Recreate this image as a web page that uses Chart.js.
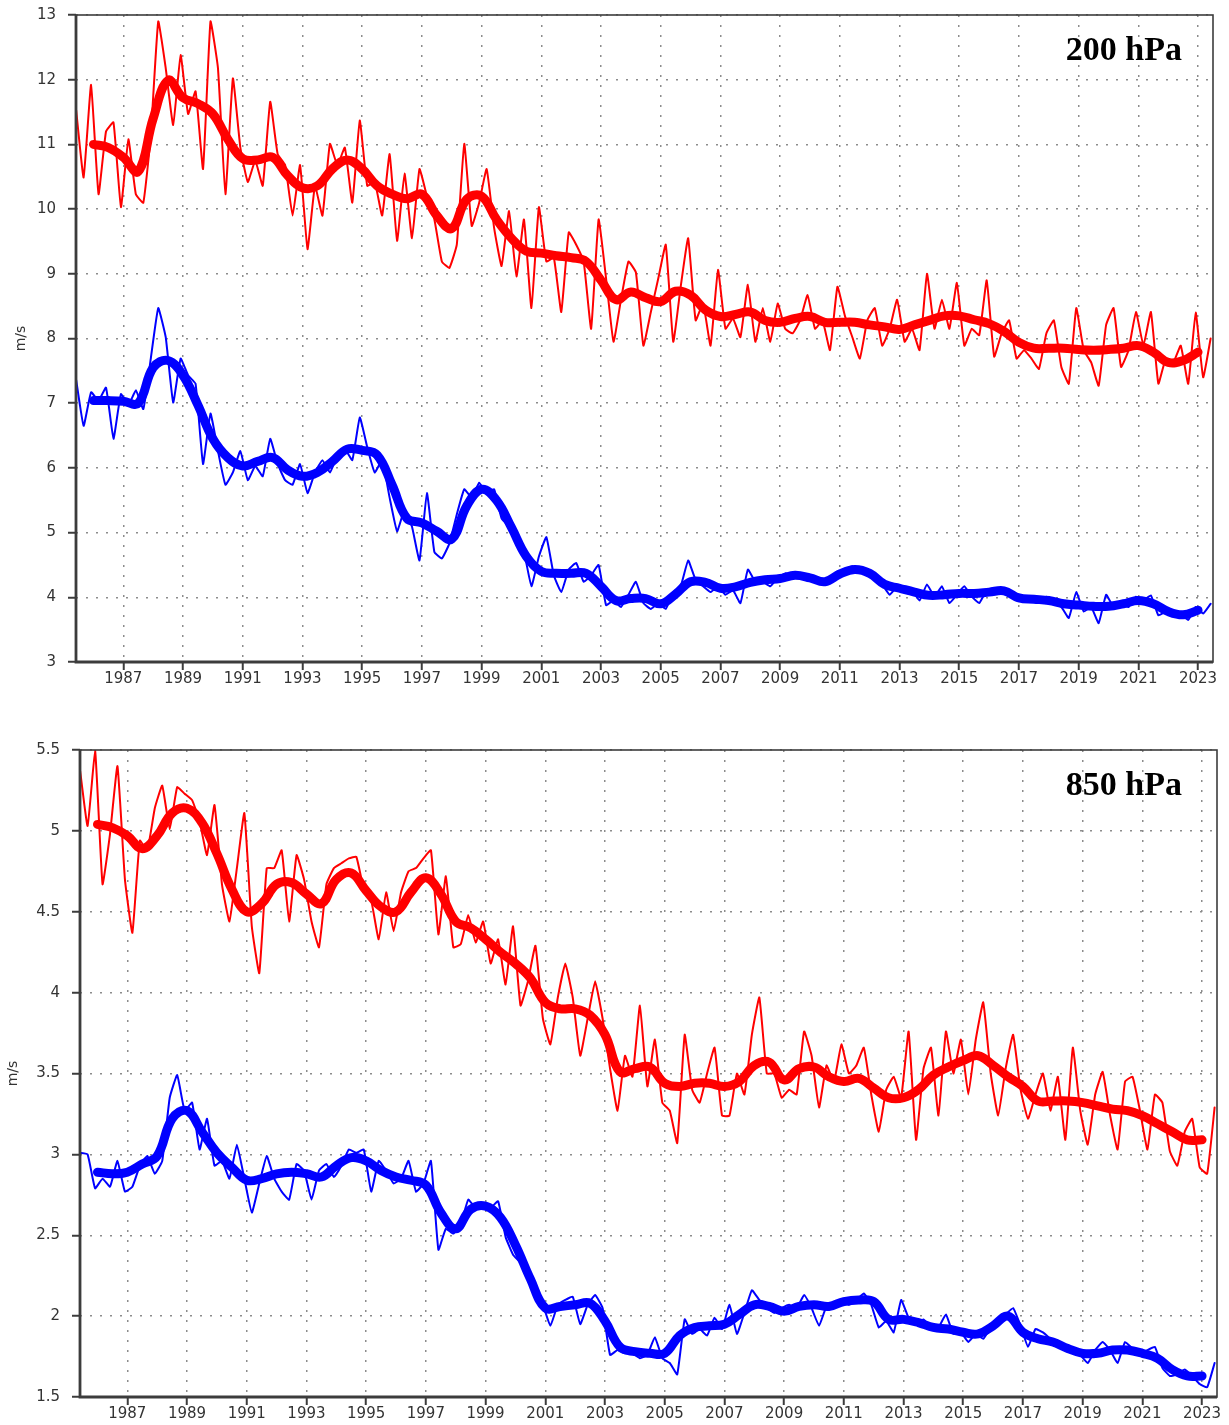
<!DOCTYPE html>
<html lang="en">
<head>
<meta charset="UTF-8">
<title>Wind speed at 200 hPa and 850 hPa</title>
<style>
  body{margin:0;background:#fff;width:1229px;height:1425px;position:relative;overflow:hidden}
  canvas{position:absolute;left:0}
  #upper{top:0}
  #lower{top:735px}
</style>
<script src="https://cdn.jsdelivr.net/npm/chart.js"></script>
</head>
<body>
<canvas id="upper" width="1229" height="700"></canvas>
<canvas id="lower" width="1229" height="690"></canvas>
<script>
// tick labels
const yearTicks = [1987, 1989, 1991, 1993, 1995, 1997, 1999, 2001, 2003, 2005, 2007,
                   2009, 2011, 2013, 2015, 2017, 2019, 2021, 2023];
const ticks200 = [3, 4, 5, 6, 7, 8, 9, 10, 11, 12, 13];
const ticks850 = [1.5, 2, 2.5, 3, 3.5, 4, 4.5, 5, 5.5];

// raw series: one value per quarter, starting 1985.42
const rawStart = 1985.42, rawStep = 0.25;
// smoothed series: one value per half year, starting 1986.0
const smoothStart = 1986, smoothStep = 0.5;

// 200 hPa, red
const red200 = [
  11.53, 10.49, 11.92,
  10.23, 11.2, 11.34, 10.03,
  11.08, 10.23, 10.1, 11.14,
  12.9, 12.18, 11.3, 12.38,
  11.47, 11.82, 10.62, 12.9,
  12.18, 10.23, 12.02, 10.95,
  10.42, 10.75, 10.36, 11.66,
  10.85, 10.68, 9.9, 10.68,
  9.38, 10.36, 9.9, 11.01,
  10.68, 10.95, 10.1, 11.37,
  10.36, 10.42, 9.9, 10.85,
  9.51, 10.55, 9.55, 10.62,
  10.2, 9.84, 9.19, 9.09,
  9.45, 11.01, 9.74, 10.1,
  10.62, 9.71, 9.12, 9.97,
  8.96, 9.84, 8.47, 10.03,
  9.19, 9.25, 8.41, 9.64,
  9.45, 9.19, 8.15, 9.84,
  8.93, 7.95, 8.6, 9.19,
  9.02, 7.89, 8.41, 8.93,
  9.45, 7.95, 8.8, 9.55,
  8.28, 8.54, 7.89, 9.06,
  8.15, 8.31, 8.02, 8.83,
  7.95, 8.47, 7.95, 8.54,
  8.15, 8.08, 8.28, 8.67,
  8.15, 8.28, 7.82, 8.8,
  8.35, 8.02, 7.69, 8.28,
  8.47, 7.89, 8.15, 8.6,
  7.95, 8.15, 7.82, 9.0,
  8.15, 8.6, 8.15, 8.86,
  7.89, 8.15, 8.05, 8.9,
  7.72, 8.08, 8.28, 7.69,
  7.82, 7.69, 7.53, 8.08,
  8.28, 7.56, 7.3, 8.47,
  7.82, 7.63, 7.27, 8.21,
  8.47, 7.56, 7.82, 8.41,
  7.89, 8.41, 7.3, 7.69,
  7.63, 7.89, 7.3, 8.4,
  7.4, 8.0
];
const red200Smooth = [
  11.0, 10.95, 10.8, 10.58, 11.4, 11.99, 11.72, 11.63, 11.47, 11.08,
  10.78, 10.76, 10.8, 10.52, 10.33, 10.36, 10.62, 10.76, 10.62, 10.36,
  10.23, 10.16, 10.23, 9.9, 9.7, 10.15, 10.2, 9.84, 9.55, 9.35,
  9.32, 9.28, 9.25, 9.19, 8.9, 8.6, 8.72, 8.63, 8.57, 8.73,
  8.67, 8.44, 8.34, 8.37, 8.41, 8.28, 8.25, 8.31, 8.34, 8.25,
  8.25, 8.25, 8.21, 8.18, 8.14, 8.21, 8.28, 8.35, 8.35, 8.29,
  8.23, 8.11, 7.94, 7.85, 7.85, 7.85, 7.83, 7.82, 7.83, 7.85,
  7.89, 7.79, 7.63, 7.66, 7.79
];

// 200 hPa, blue
const blue200 = [
  7.36, 6.65, 7.17,
  7.04, 7.24, 6.45, 7.14,
  6.97, 7.2, 6.91, 7.69,
  8.47, 8.02, 7.01, 7.69,
  7.43, 7.3, 6.06, 6.84,
  6.26, 5.74, 5.93, 6.26,
  5.81, 6.03, 5.87, 6.45,
  6.06, 5.81, 5.74, 6.06,
  5.61, 5.93, 6.12, 5.93,
  6.19, 6.29, 6.12, 6.78,
  6.32, 5.93, 6.12, 5.54,
  5.02, 5.35, 5.09, 4.57,
  5.61, 4.7, 4.6, 4.83,
  5.28, 5.67, 5.54, 5.77,
  5.61, 5.67, 5.22, 5.09,
  4.89, 4.7, 4.17, 4.63,
  4.93, 4.34, 4.08, 4.43,
  4.53, 4.24, 4.34, 4.5,
  3.88, 3.95, 3.85, 4.04,
  4.24, 3.91, 3.82, 3.91,
  3.82, 4.08, 4.17, 4.57,
  4.27, 4.17, 4.08, 4.17,
  4.04, 4.11, 3.91, 4.43,
  4.24, 4.24, 4.17, 4.3,
  4.37, 4.34, 4.37, 4.29,
  4.3, 4.2, 4.3, 4.4,
  4.43, 4.48, 4.4, 4.4,
  4.34, 4.2, 4.04, 4.17,
  4.14, 4.11, 3.95, 4.2,
  4.01, 4.17, 3.91, 4.04,
  4.17, 4.01, 3.91, 4.11,
  4.14, 4.08, 4.04, 3.95,
  4.01, 3.95, 3.91, 4.01,
  3.91, 3.85, 3.68, 4.08,
  3.78, 3.85, 3.6, 4.04,
  3.85, 3.88, 3.85, 4.01,
  3.95, 4.03, 3.72, 3.78,
  3.72, 3.75, 3.65, 3.85,
  3.75, 3.9
];
const blue200Smooth = [
  7.04, 7.04, 7.03, 7.0, 7.55, 7.66, 7.43, 6.97, 6.45, 6.16,
  6.03, 6.1, 6.16, 5.97, 5.87, 5.93, 6.1, 6.29, 6.27, 6.2,
  5.74, 5.22, 5.15, 5.02, 4.9, 5.41, 5.67, 5.5, 5.08, 4.63,
  4.4, 4.37, 4.37, 4.37, 4.17, 3.95, 3.98, 3.98, 3.9, 4.05,
  4.24, 4.23, 4.14, 4.16, 4.23, 4.27, 4.29, 4.34, 4.3, 4.24,
  4.36, 4.43, 4.37, 4.2, 4.14, 4.08, 4.03, 4.04, 4.06, 4.06,
  4.08, 4.1, 3.99, 3.97, 3.95, 3.9, 3.88, 3.86, 3.86, 3.9,
  3.95, 3.9, 3.78, 3.73, 3.8
];

// 850 hPa, red
const red850 = [
  5.37, 5.03, 5.5,
  4.67, 4.98, 5.4, 4.7,
  4.37, 4.94, 4.88, 5.14,
  5.28, 5.01, 5.27, 5.23,
  5.19, 5.06, 4.85, 5.16,
  4.67, 4.44, 4.77, 5.11,
  4.41, 4.12, 4.77, 4.77,
  4.88, 4.44, 4.85, 4.7,
  4.44, 4.28, 4.67, 4.77,
  4.8, 4.83, 4.84, 4.64,
  4.57, 4.33, 4.62, 4.38,
  4.62, 4.75, 4.77, 4.83,
  4.88, 4.36, 4.72, 4.28,
  4.3, 4.48, 4.31, 4.44,
  4.18, 4.33, 4.05, 4.41,
  3.92, 4.07, 4.29, 3.84,
  3.68, 3.97, 4.18, 3.97,
  3.61, 3.84, 4.07, 3.84,
  3.53, 3.27, 3.61, 3.48,
  3.92, 3.42, 3.71, 3.32,
  3.27, 3.07, 3.74, 3.4,
  3.32, 3.5, 3.66, 3.24,
  3.24, 3.5, 3.37, 3.74,
  3.97, 3.5, 3.5, 3.35,
  3.4, 3.37, 3.76, 3.61,
  3.29, 3.55, 3.45, 3.68,
  3.5, 3.55, 3.66, 3.37,
  3.14, 3.4, 3.48, 3.35,
  3.76, 3.09, 3.53, 3.66,
  3.24, 3.76, 3.5, 3.71,
  3.37, 3.71, 3.94, 3.5,
  3.24, 3.53, 3.74, 3.4,
  3.22, 3.37, 3.5, 3.27,
  3.48, 3.09, 3.66, 3.27,
  3.06, 3.37, 3.51, 3.24,
  3.03, 3.45, 3.48, 3.27,
  3.03, 3.37, 3.32, 3.02,
  2.93, 3.14, 3.22, 2.92,
  2.88, 3.29
];
const red850Smooth = [
  5.04, 5.02, 4.97, 4.89, 4.97, 5.11, 5.14, 5.05, 4.86, 4.64,
  4.5, 4.55, 4.67, 4.68, 4.61, 4.55, 4.7, 4.74, 4.63, 4.53,
  4.5, 4.62, 4.71, 4.61, 4.44, 4.4, 4.33, 4.25, 4.18, 4.09,
  3.94, 3.9, 3.9, 3.86, 3.74, 3.51, 3.53, 3.54, 3.44, 3.42,
  3.44, 3.44, 3.42, 3.45, 3.55, 3.57, 3.46, 3.53, 3.54, 3.48,
  3.45, 3.47, 3.41, 3.35, 3.35, 3.4, 3.49, 3.54, 3.58, 3.61,
  3.55, 3.48, 3.42, 3.33, 3.33, 3.33, 3.32, 3.3, 3.28, 3.27,
  3.24, 3.19, 3.14, 3.09, 3.09
];

// 850 hPa, blue
const blue850 = [
  3.01, 3.0, 2.79,
  2.85, 2.8, 2.96, 2.77,
  2.8, 2.93, 2.99, 2.88,
  2.96, 3.35, 3.49, 3.27,
  3.32, 3.03, 3.22, 2.93,
  2.96, 2.85, 3.06, 2.85,
  2.64, 2.82, 2.99, 2.85,
  2.77, 2.72, 2.94, 2.9,
  2.72, 2.9, 2.94, 2.86,
  2.93, 3.03, 3.01, 3.03,
  2.77, 2.96, 2.9, 2.82,
  2.85, 2.96, 2.77, 2.82,
  2.96, 2.41, 2.54, 2.51,
  2.57, 2.72, 2.67, 2.69,
  2.67, 2.71, 2.49, 2.38,
  2.33, 2.25, 2.14, 2.07,
  1.94, 2.07, 2.1, 2.12,
  1.95, 2.07, 2.13, 2.05,
  1.76, 1.79, 1.77, 1.77,
  1.74, 1.76, 1.87, 1.74,
  1.71, 1.64, 1.98, 1.89,
  1.92, 1.88, 1.99, 1.92,
  2.07, 1.89, 2.02, 2.16,
  2.1, 2.05, 2.02, 2.05,
  2.07, 2.05, 2.13, 2.05,
  1.94, 2.06, 2.06, 2.1,
  2.07, 2.1, 2.14, 2.07,
  1.93, 1.97, 1.9, 2.1,
  1.99, 1.96, 1.98, 1.93,
  1.93, 2.01, 1.89, 1.9,
  1.84, 1.89, 1.86, 1.93,
  1.96, 2.01, 2.05, 1.94,
  1.81, 1.92, 1.9, 1.86,
  1.82, 1.81, 1.77, 1.76,
  1.71, 1.79, 1.84, 1.79,
  1.71, 1.84, 1.8, 1.76,
  1.79, 1.81, 1.68, 1.63,
  1.64, 1.67, 1.63, 1.58,
  1.56, 1.71
];
const blue850Smooth = [
  2.89, 2.88, 2.89, 2.94, 2.99, 3.22, 3.27, 3.14, 3.01, 2.92,
  2.84, 2.85, 2.88, 2.89, 2.88, 2.86, 2.93, 2.98, 2.96, 2.9,
  2.86, 2.84, 2.81, 2.64, 2.54, 2.66, 2.68, 2.61, 2.44, 2.23,
  2.05, 2.06, 2.07, 2.08, 1.97, 1.81, 1.78, 1.77, 1.77, 1.88,
  1.93, 1.94, 1.95, 2.01, 2.07, 2.06, 2.03, 2.06, 2.07, 2.06,
  2.09, 2.1, 2.09, 1.98, 1.98, 1.96, 1.93, 1.92, 1.9, 1.89,
  1.94, 2.0, 1.9, 1.86, 1.84, 1.8, 1.77, 1.77, 1.79, 1.79,
  1.77, 1.74, 1.67, 1.63, 1.63
];

const RED = '#ff0000', BLUE = '#0000ff';
const tickFont = {family: 'DejaVu Sans', size: 15};

const toPoints = (vals, start, step) => vals.map((v, i) => ({x: start + i * step, y: v}));

// dark frame around the plot area, heavier on the left and bottom axes
const framePlugin = {
  id: 'frame',
  afterDatasetsDraw(chart) {
    const {ctx, chartArea: a} = chart;
    ctx.save();
    ctx.setLineDash([]);
    ctx.strokeStyle = '#3c3c3c';
    ctx.lineWidth = 1.6;
    ctx.strokeRect(a.left, a.top, a.right - a.left, a.bottom - a.top);
    ctx.lineWidth = 2.8;
    ctx.beginPath();
    ctx.moveTo(a.left, a.top);
    ctx.lineTo(a.left, a.bottom);
    ctx.lineTo(a.right, a.bottom);
    ctx.stroke();
    ctx.restore();
  }
};

// pressure level caption in the upper right corner
const levelPlugin = {
  id: 'level',
  afterDraw(chart, args, opts) {
    const {ctx, chartArea: a} = chart;
    ctx.save();
    ctx.font = 'bold 34px "Liberation Serif"';
    ctx.fillStyle = '#000';
    ctx.textAlign = 'right';
    ctx.textBaseline = 'alphabetic';
    ctx.fillText(opts.text, a.right - opts.inset, a.top + 45);
    ctx.restore();
  }
};

function gridOpts() {
  return {color: '#8c8c8c', lineWidth: 1.5, tickColor: '#3c3c3c', tickWidth: 2,
          tickLength: 8, tickBorderDash: []};
}

function buildChart(id, cfg) {
  return new Chart(document.getElementById(id), {
    type: 'line',
    data: {
      datasets: [
        {data: toPoints(cfg.redSmooth, smoothStart, smoothStep), borderColor: RED, borderWidth: 9, tension: 0.4, order: 0},
        {data: toPoints(cfg.blueSmooth, smoothStart, smoothStep), borderColor: BLUE, borderWidth: 9, tension: 0.4, order: 0},
        {data: toPoints(cfg.red, rawStart, rawStep), borderColor: RED, borderWidth: 2, tension: 0.12, order: 1},
        {data: toPoints(cfg.blue, rawStart, rawStep), borderColor: BLUE, borderWidth: 2, tension: 0.12, order: 1}
      ]
    },
    options: {
      responsive: false,
      animation: false,
      devicePixelRatio: 1,
      events: [],
      layout: {padding: {top: 15, right: cfg.padRight, left: 0, bottom: 0}},
      elements: {point: {radius: 0}, line: {borderJoinStyle: 'round', borderCapStyle: 'round'}},
      plugins: {legend: {display: false}, tooltip: {enabled: false},
                level: {text: cfg.label, inset: cfg.inset}},
      scales: {
        x: {
          type: 'linear', min: 1985.415, max: 2023.5,
          afterBuildTicks: s => { s.ticks = yearTicks.map(v => ({value: v})); },
          afterFit: s => { s.height = cfg.xHeight; s.paddingLeft = 0; s.paddingRight = 0; },
          ticks: {callback: v => String(v), color: '#333', font: tickFont, padding: 0,
                  maxRotation: 0, autoSkip: false},
          grid: gridOpts(),
          border: {display: false, dash: [2, 8]}
        },
        y: {
          min: cfg.yTicks[0], max: cfg.yTicks[cfg.yTicks.length - 1],
          afterBuildTicks: s => { s.ticks = cfg.yTicks.map(v => ({value: v})); },
          afterFit: s => { s.width = cfg.yWidth; s.paddingTop = 0; s.paddingBottom = 0; },
          ticks: {callback: v => String(v), color: '#333', font: tickFont, padding: 12},
          grid: gridOpts(),
          border: {display: false, dash: [2, 8]},
          title: {display: true, text: 'm/s', color: '#333',
                  font: {family: 'DejaVu Sans', size: 14}, padding: {top: cfg.titlePad, bottom: 0}}
        }
      }
    },
    plugins: [framePlugin, levelPlugin]
  });
}

buildChart('upper', {
  red: red200, blue: blue200, redSmooth: red200Smooth, blueSmooth: blue200Smooth,
  yTicks: ticks200, yWidth: 76, xHeight: 38, padRight: 16, titlePad: 13,
  label: '200 hPa', inset: 31
});

buildChart('lower', {
  red: red850, blue: blue850, redSmooth: red850Smooth, blueSmooth: blue850Smooth,
  yTicks: ticks850, yWidth: 80, xHeight: 28, padRight: 12, titlePad: 5,
  label: '850 hPa', inset: 35
});
</script>
</body>
</html>
